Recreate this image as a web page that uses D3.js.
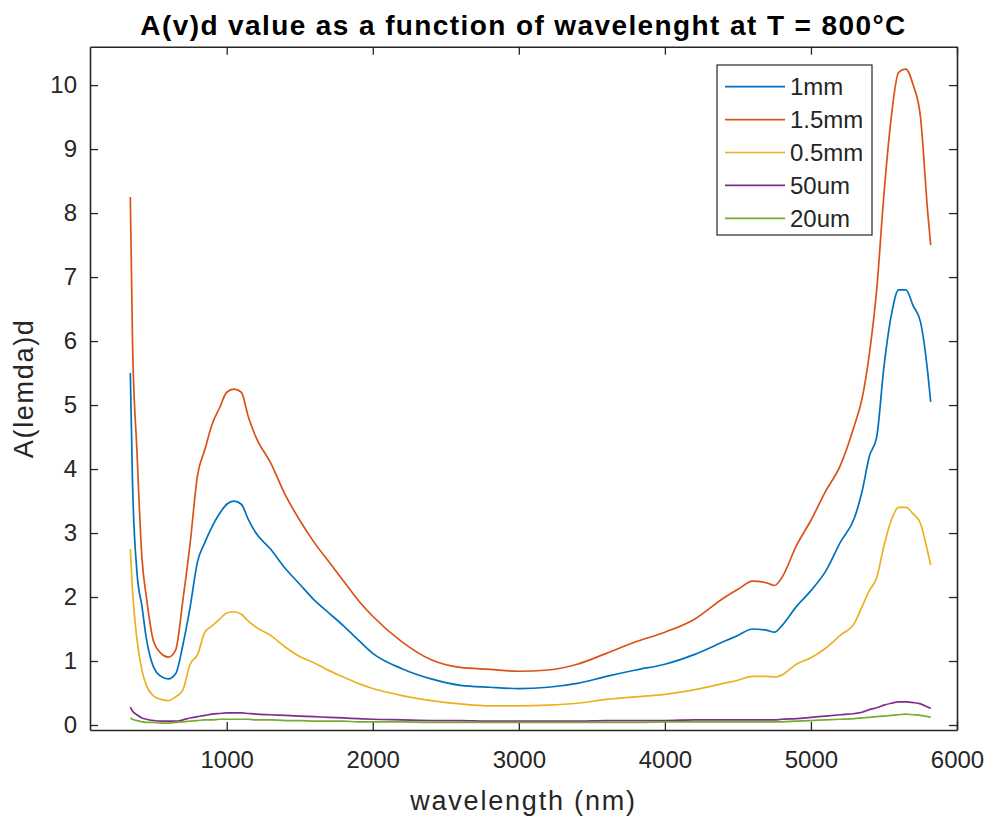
<!DOCTYPE html>
<html>
<head>
<meta charset="utf-8">
<script src="https://cdn.jsdelivr.net/npm/d3@7"></script>
<style>
  body { margin: 0; background: #fff; }
  text { font-family: "Liberation Sans", Arial, Helvetica, sans-serif; fill: #262626; }
</style>
</head>
<body>
<div id="chart"></div>
<script>
// ---------------------- data ----------------------
var wavelength = [340, 355, 385, 420, 450, 500, 550, 600, 650, 700,
  750, 800, 850, 900, 950, 1000, 1050, 1100, 1150, 1200,
  1300, 1400, 1500, 1600, 1700, 1800, 1900, 2000, 2200, 2400,
  2600, 2800, 3000, 3200, 3400, 3600, 3800, 4000, 4200, 4400,
  4500, 4600, 4700, 4750, 4800, 4900, 5000, 5100, 5200, 5300,
  5350, 5400, 5450, 5500, 5550, 5600, 5650, 5700, 5750, 5800, 5820];

var d1mm = [5.5, 3.8, 2.4, 1.85, 1.35, 0.9, 0.76, 0.72, 0.8, 1.25,
  1.85, 2.55, 2.85, 3.1, 3.3, 3.45, 3.5, 3.45, 3.2, 3.0,
  2.75, 2.45, 2.2, 1.95, 1.75, 1.55, 1.33, 1.12, 0.88, 0.72,
  0.62, 0.59, 0.57, 0.59, 0.65, 0.76, 0.86, 0.95, 1.1, 1.3,
  1.4, 1.5, 1.48, 1.45, 1.55, 1.85, 2.1, 2.4, 2.85, 3.25,
  3.65, 4.2, 4.5, 5.6, 6.4, 6.8, 6.8, 6.55, 6.3, 5.5, 5.05];

var d15mm = [8.25, 6.0, 4.3, 2.6, 2.0, 1.3, 1.12, 1.06, 1.17, 1.95,
  2.85, 3.9, 4.3, 4.7, 4.95, 5.2, 5.25, 5.2, 4.8, 4.5,
  4.1, 3.6, 3.2, 2.85, 2.55, 2.25, 1.95, 1.7, 1.3, 1.02,
  0.9, 0.87, 0.84, 0.86, 0.95, 1.12, 1.3, 1.45, 1.65, 1.98,
  2.12, 2.25, 2.22, 2.18, 2.3, 2.8, 3.2, 3.65, 4.05, 4.7,
  5.1, 5.8, 6.8, 8.3, 9.5, 10.2, 10.25, 10.0, 9.5, 8.0, 7.5];

var d05mm = [2.75, 2.1, 1.35, 0.85, 0.62, 0.45, 0.4, 0.38, 0.44, 0.55,
  0.95, 1.1, 1.45, 1.55, 1.65, 1.75, 1.77, 1.73, 1.62, 1.53,
  1.4, 1.22, 1.07, 0.97, 0.85, 0.75, 0.65, 0.57, 0.46, 0.38,
  0.33, 0.3, 0.3, 0.31, 0.34, 0.4, 0.44, 0.48, 0.55, 0.65,
  0.7, 0.76, 0.76, 0.75, 0.78, 0.95, 1.05, 1.2, 1.4, 1.6,
  1.85, 2.1, 2.3, 2.8, 3.2, 3.4, 3.4, 3.3, 3.15, 2.7, 2.5];

var d50um = [0.28, 0.22, 0.16, 0.11, 0.09, 0.07, 0.06, 0.06, 0.06, 0.08,
  0.11, 0.13, 0.15, 0.17, 0.18, 0.19, 0.19, 0.19, 0.18, 0.17,
  0.16, 0.15, 0.14, 0.13, 0.12, 0.11, 0.1, 0.09, 0.08, 0.07,
  0.07, 0.06, 0.06, 0.06, 0.06, 0.07, 0.07, 0.07, 0.08, 0.08,
  0.08, 0.08, 0.08, 0.08, 0.09, 0.1, 0.12, 0.14, 0.16, 0.18,
  0.2, 0.24, 0.27, 0.31, 0.34, 0.36, 0.36, 0.35, 0.33, 0.28, 0.26];

var d20um = [0.11, 0.09, 0.07, 0.05, 0.04, 0.04, 0.03, 0.03, 0.04, 0.05,
  0.06, 0.07, 0.08, 0.08, 0.09, 0.09, 0.09, 0.09, 0.09, 0.08,
  0.08, 0.07, 0.07, 0.06, 0.06, 0.06, 0.05, 0.05, 0.05, 0.04,
  0.04, 0.04, 0.04, 0.04, 0.04, 0.04, 0.04, 0.05, 0.05, 0.05,
  0.05, 0.05, 0.05, 0.05, 0.05, 0.06, 0.07, 0.08, 0.09, 0.1,
  0.11, 0.12, 0.13, 0.14, 0.15, 0.16, 0.17, 0.16, 0.15, 0.13, 0.12];

var seriesNames = ["1mm", "1.5mm", "0.5mm", "50um", "20um"];
var seriesValues = [d1mm, d15mm, d05mm, d50um, d20um];
var seriesColors = ["#0072BD", "#D95319", "#EDB120", "#7E2F8E", "#77AC30"];

var xTicks = [1000, 2000, 3000, 4000, 5000, 6000];
var yTicks = [0, 1, 2, 3, 4, 5, 6, 7, 8, 9, 10];

// ---------------------- layout ----------------------
var W = 990, H = 822;
var padL = 90, padR = 957, padT = 46.7, padB = 730;

var svg = d3.select("#chart")
     .append("svg")
     .attr("width", W)
     .attr("height", H);

var x = d3.scaleLinear().domain([64, 6000]).range([padL, padR]);
var y = d3.scaleLinear().domain([-0.078, 10.6]).range([padB, padT]);

// ---------------------- axes (box with inward ticks) ----------------------
var axisColor = "#262626";

var gx = svg.append("g")
     .attr("transform", "translate(0," + padB + ")")
     .call(d3.axisBottom(x).tickValues(xTicks).tickFormat(d3.format("d"))
       .tickSizeInner(-8).tickSizeOuter(0).tickPadding(21));
var gxTop = svg.append("g")
     .attr("transform", "translate(0," + padT + ")")
     .call(d3.axisTop(x).tickValues(xTicks).tickSizeInner(-8).tickSizeOuter(0).tickFormat(""));
var gy = svg.append("g")
     .attr("transform", "translate(" + padL + ",0)")
     .call(d3.axisLeft(y).tickValues(yTicks).tickFormat(d3.format("d"))
       .tickSizeInner(-8).tickSizeOuter(0).tickPadding(13));
var gyRight = svg.append("g")
     .attr("transform", "translate(" + padR + ",0)")
     .call(d3.axisRight(y).tickValues(yTicks).tickSizeInner(-8).tickSizeOuter(0).tickFormat(""));

[gx, gxTop, gy, gyRight].forEach(function (g) {
  g.select(".domain").attr("stroke", axisColor).attr("stroke-width", 1.6);
  g.selectAll(".tick line").attr("stroke", axisColor).attr("stroke-width", 1.3);
  g.selectAll(".tick text")
     .attr("fill", axisColor)
     .style("font-family", "Liberation Sans, Arial, sans-serif")
     .style("font-size", "24px");
});

// ---------------------- lines ----------------------
var line = d3.line()
     .x(function (d) { return x(d[0]); })
     .y(function (d) { return y(d[1]); })
     .curve(d3.curveMonotoneX);

seriesValues.forEach(function (vals, i) {
  svg.append("path")
     .datum(wavelength.map(function (w, k) { return [w, vals[k]]; }))
     .attr("fill", "none")
     .attr("stroke", seriesColors[i])
     .attr("stroke-width", 1.7)
     .attr("stroke-linejoin", "round")
     .attr("d", line);
});

// ---------------------- legend ----------------------
var legX = 717, legY = 65, legW = 155, legH = 170, rowGap = 32.9;
svg.append("rect")
     .attr("x", legX).attr("y", legY)
     .attr("width", legW).attr("height", legH)
     .attr("fill", "#fff")
     .attr("stroke", axisColor)
     .attr("stroke-width", 1.2);

var rows = svg.selectAll("g.leg")
     .data(seriesNames)
     .enter()
     .append("g")
     .attr("class", "leg")
     .attr("transform", function (d, i) { return "translate(" + legX + "," + (legY + 21.7 + i * rowGap) + ")"; });
rows.append("line")
     .attr("x1", 8).attr("x2", 68)
     .attr("stroke", function (d, i) { return seriesColors[i]; })
     .attr("stroke-width", 1.7);
rows.append("text")
     .attr("x", 73)
     .attr("dy", "0.35em")
     .style("font-size", "24px")
     .text(function (d) { return d; });

// ---------------------- titles ----------------------
svg.append("text")
     .attr("x", (padL + padR) / 2)
     .attr("y", 35)
     .attr("text-anchor", "middle")
     .style("font-size", "28px")
     .style("letter-spacing", "1.4px")
     .style("font-weight", "bold")
     .style("fill", "#000")
     .text("A(v)d value as a function of wavelenght at T = 800°C");

svg.append("text")
     .attr("x", (padL + padR) / 2)
     .attr("y", 810)
     .attr("text-anchor", "middle")
     .style("font-size", "27px")
     .style("letter-spacing", "1.8px")
     .text("wavelength (nm)");

svg.append("text")
     .attr("transform", "translate(33," + ((padT + padB) / 2) + ") rotate(-90)")
     .attr("text-anchor", "middle")
     .style("font-size", "27px")
     .style("letter-spacing", "1.7px")
     .text("A(lemda)d");
</script>
</body>
</html>
